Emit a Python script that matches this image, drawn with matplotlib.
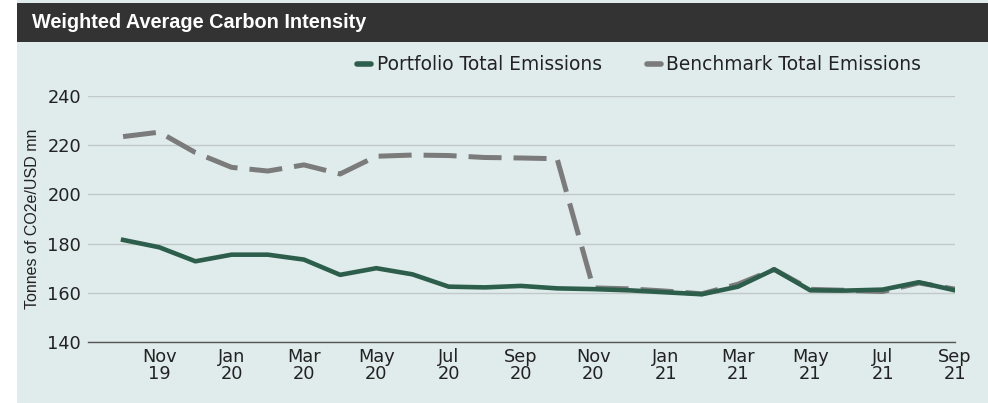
import matplotlib.pyplot as plt
from matplotlib.lines import Line2D
from matplotlib.patches import Rectangle

# monthly data, Oct 2019 .. Sep 2021
months = ['Oct 19', 'Nov 19', 'Dec 19', 'Jan 20', 'Feb 20', 'Mar 20', 'Apr 20', 'May 20',
          'Jun 20', 'Jul 20', 'Aug 20', 'Sep 20', 'Oct 20', 'Nov 20', 'Dec 20', 'Jan 21',
          'Feb 21', 'Mar 21', 'Apr 21', 'May 21', 'Jun 21', 'Jul 21', 'Aug 21', 'Sep 21']
portfolio = [181.5, 178.5, 172.8, 175.5, 175.5, 173.5, 167.3, 170.0, 167.5, 162.5, 162.2, 162.8,
             161.8, 161.5, 161.0, 160.2, 159.4, 162.5, 169.5, 161.0, 160.9, 161.3, 164.3, 161.0]
benchmark = [223.5, 225.3, 217.0, 211.0, 209.5, 212.0, 208.3, 215.5, 216.0, 215.8, 215.0, 214.8,
             214.5, 162.0, 161.6, 160.7, 159.6, 163.5, 169.5, 161.4, 161.0, 160.5, 164.0, 161.5]

y_ticks = [140, 160, 180, 200, 220, 240]

W, H = 988, 403
bg = '#dfeceb'
green = '#2d5e4c'
grey = '#7b7b7b'

fig = plt.figure(figsize=(W / 100, H / 100), dpi=100)
fig.patch.set_facecolor('white')

# panel background and title bar
fig.patches.append(Rectangle((17 / W, 0), 1 - 17 / W, 1, transform=fig.transFigure,
                             facecolor=bg, edgecolor='none', zorder=-2))
fig.patches.append(Rectangle((17 / W, 1 - 42 / H), 1 - 17 / W, 39 / H, transform=fig.transFigure,
                             facecolor='#333333', edgecolor='none', zorder=-1))
fig.text(32 / W, 1 - 22 / H, 'Weighted Average Carbon Intensity', color='white',
         fontsize=14.3, fontweight='bold', family='Liberation Sans', va='center', ha='left')

ax = fig.add_axes([88 / W, 1 - 342 / H, (955 - 88) / W, (342 - 96) / H])
ax.set_facecolor('none')

x = list(range(len(months)))
ax.plot(x, benchmark, color=grey, lw=3.6, dashes=(6.6, 2.4), zorder=3)
ax.plot(x, portfolio, color=green, lw=3.3, solid_joinstyle='round', zorder=4)

ax.set_xlim(-0.97, len(months) - 1)
ax.set_ylim(140, 240)
ax.set_yticks(y_ticks)
ax.set_yticklabels([str(v) for v in y_ticks])
tick_pos = x[1::2]
ax.set_xticks(tick_pos)
ax.set_xticklabels([months[i].replace(' ', '\n') for i in tick_pos], linespacing=0.95)

ax.tick_params(axis='both', length=0, labelsize=12.8, colors='#222222')
ax.tick_params(axis='y', pad=5)
ax.tick_params(axis='x', pad=4)
ax.grid(axis='y', color='#c3c8c8', lw=1)
ax.set_axisbelow(True)
for s in ['top', 'right', 'left']:
    ax.spines[s].set_visible(False)
ax.spines['bottom'].set_color('#555555')
ax.spines['bottom'].set_linewidth(1)

ax.set_ylabel('Tonnes of CO2e/USD mn', family='Liberation Sans', fontsize=11.5,
              color='#222222', labelpad=5)

handles = [Line2D([], [], color=green, lw=4, solid_capstyle='round'),
           Line2D([], [], color=grey, lw=4, solid_capstyle='round')]
fig.legend(handles, ['Portfolio Total Emissions', 'Benchmark Total Emissions'],
           loc='center left', bbox_to_anchor=(357 / W, 1 - 65 / H), ncol=2, frameon=False,
           handlelength=0.75, handletextpad=0.3, columnspacing=2.42, fontsize=13.4,
           labelcolor='#222222', borderaxespad=0, borderpad=0)

fig.savefig('out.png', dpi=100, facecolor='white')
